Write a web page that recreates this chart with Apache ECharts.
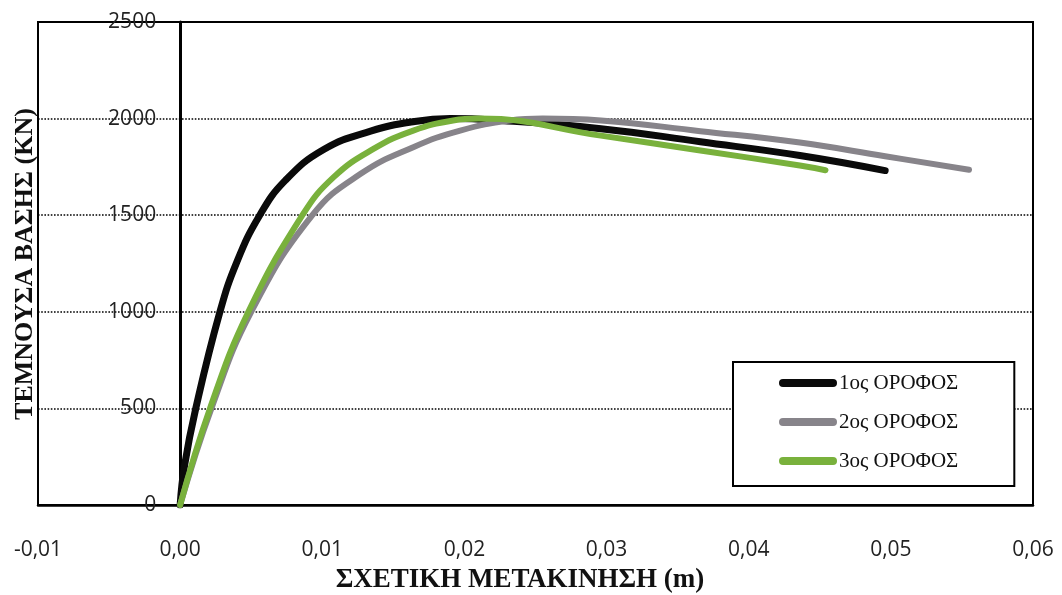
<!DOCTYPE html>
<html>
<head>
<meta charset="utf-8">
<script src="https://cdn.jsdelivr.net/npm/echarts@6/dist/echarts.min.js"></script>
<style>
  html, body { margin: 0; padding: 0; background: #fff; }
  #chart { width: 1062px; height: 595px; }
</style>
</head>
<body>
<div id="chart"></div>
<script>
// 1ος ΟΡΟΦΟΣ
var disp1 = [0, 0.0003, 0.0011, 0.0028, 0.004, 0.0056, 0.0074, 0.0101, 0.0134, 0.0165, 0.019, 0.022, 0.0296, 0.0366, 0.0436, 0.0496];
var force1 = [0, 200, 500, 1000, 1260, 1500, 1680, 1840, 1935, 1985, 2000, 1993, 1948, 1880, 1809, 1731];
// 2ος ΟΡΟΦΟΣ
var disp2 = [0, 0.0022, 0.005, 0.0093, 0.0127, 0.0164, 0.0197, 0.0232, 0.0255, 0.0296, 0.0366, 0.0436, 0.0496, 0.0555];
var force2 = [0, 500, 1000, 1500, 1714, 1852, 1938, 1990, 2000, 1990, 1935, 1876, 1805, 1735];
// 3ος ΟΡΟΦΟΣ
var disp3 = [0, 0.0021, 0.0048, 0.0086, 0.0108, 0.0136, 0.0164, 0.0192, 0.021, 0.0296, 0.0366, 0.0436, 0.0454];
var force3 = [0, 500, 1000, 1500, 1697, 1843, 1938, 1990, 2000, 1912, 1835, 1757, 1733];

var seriesNames = ["1ος ΟΡΟΦΟΣ", "2ος ΟΡΟΦΟΣ", "3ος ΟΡΟΦΟΣ"];
var seriesColors = ["#0a0a0a", "#87848a", "#79b13c"];
var xTitle = "ΣΧΕΤΙΚΗ ΜΕΤΑΚΙΝΗΣΗ (m)";
var yTitle = "ΤΕΜΝΟΥΣΑ ΒΑΣΗΣ (KN)";

function pairs(xs, ys) {
  return xs.map(function (x, i) { return [x, ys[i]]; });
}

var chart = echarts.init(document.getElementById("chart"));

var widths = [7, 6, 6];
var dataSets = [pairs(disp1, force1), pairs(disp2, force2), pairs(disp3, force3)];
var series = [];
for (var i = 0; i < 3; i++) {
  series.push({
    name: seriesNames[i],
    type: "line",
    data: dataSets[i],
    smooth: 0.45,
    symbol: "none",
    color: seriesColors[i],
    lineStyle: { width: widths[i], cap: "round", join: "round" },
    animation: false
  });
}

var capsule = "path://M4,0 L54,0 A4,4 0 0 1 54,8 L4,8 A4,4 0 0 1 4,0 Z";
var gridLeft = 38;

var option = {
  backgroundColor: "#fff",
  animation: false,
  grid: {
    left: gridLeft,
    right: 29,
    top: 22,
    bottom: 90,
    show: true,
    borderColor: "#000",
    borderWidth: 2,
    containLabel: false,
    outerBoundsMode: "none"
  },
  xAxis: {
    type: "value",
    min: -0.01,
    max: 0.06,
    interval: 0.01,
    axisLine: { show: true, onZero: false, lineStyle: { color: "#000", width: 2.5 } },
    axisTick: { show: false },
    splitLine: { show: false },
    axisLabel: {
      margin: 35,
      color: "#222",
      fontFamily: "Open Sans",
      fontSize: 21,
      formatter: function (v) { return v.toFixed(2).replace(".", ","); }
    }
  },
  yAxis: {
    type: "value",
    min: 0,
    max: 2500,
    interval: 500,
    position: "left",
    offset: 0,
    axisLine: { show: true, onZero: false, lineStyle: { color: "#000", width: 3 } },
    axisTick: { show: false },
    splitLine: { show: true, lineStyle: { color: "#000", type: "dotted", width: 1.6 } },
    axisLabel: {
      margin: 24,
      color: "#222",
      fontFamily: "Open Sans",
      fontSize: 21,
      formatter: function (v) { return String(v); }
    }
  },
  legend: {
    data: seriesNames,
    orient: "vertical",
    left: 733,
    top: 362,
    padding: [10, 56, 14, 46],
    itemGap: 17,
    itemWidth: 58,
    itemHeight: 8,
    icon: capsule,
    borderColor: "#000",
    borderWidth: 2,
    backgroundColor: "#fff",
    selectedMode: false,
    textStyle: {
      fontFamily: "Liberation Serif",
      fontSize: 21,
      color: "#111",
      padding: [0, 0, 0, -3],
      lineHeight: 22
    }
  },
  graphic: [
    {
      type: "text",
      x: 520,
      y: 580,
      style: {
        text: xTitle,
        textAlign: "center",
        textVerticalAlign: "middle",
        font: "bold 27px 'Liberation Serif'",
        fill: "#111"
      }
    },
    {
      type: "text",
      x: 25,
      y: 264,
      rotation: Math.PI / 2,
      style: {
        text: yTitle,
        textAlign: "center",
        textVerticalAlign: "middle",
        font: "bold 26px 'Liberation Serif'",
        fill: "#111"
      }
    }
  ],
  series: series
};

chart.setOption(option);

// move the y axis (line + labels) onto x = 0, like the original
var zeroPx = chart.convertToPixel({ xAxisIndex: 0 }, 0);
chart.setOption({ yAxis: { offset: -(zeroPx - gridLeft) } });
</script>
</body>
</html>
